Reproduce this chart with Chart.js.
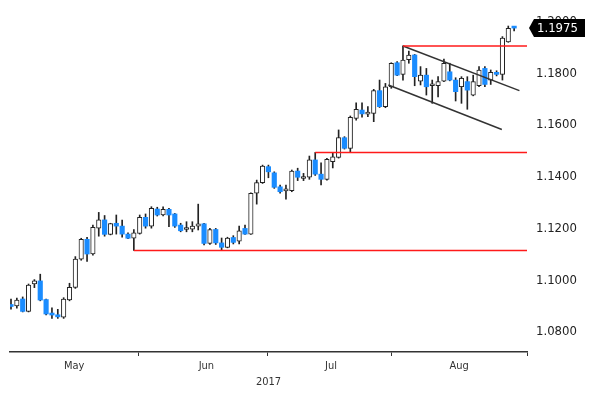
<!DOCTYPE html>
<html>
<head>
<meta charset="utf-8">
<script src="https://cdn.jsdelivr.net/npm/chart.js@4/dist/chart.umd.min.js"></script>
<style>
html, body { margin: 0; padding: 0; background: #fff; }
</style>
</head>
<body>
<canvas id="myChart" width="600" height="397"></canvas>
<script>
// daily candles, index 0 = early May 2017
var opens = [1.0900,1.0900,1.0927,1.0879,1.0985,1.0997,1.0925,1.0869,1.0866,1.0857,
  1.0923,1.0972,1.1081,1.1158,1.1101,1.1201,1.1233,1.1177,1.1220,1.1209,
  1.1178,1.1162,1.1181,1.1243,1.1209,1.1275,1.1252,1.1274,1.1256,1.1213,
  1.1196,1.1197,1.1209,1.1218,1.1142,1.1196,1.1144,1.1127,1.1165,1.1151,
  1.1200,1.1178,1.1336,1.1377,1.1439,1.1415,1.1361,1.1345,1.1346,1.1422,
  1.1393,1.1398,1.1465,1.1410,1.1390,1.1458,1.1475,1.1551,1.1510,1.1626,
  1.1658,1.1642,1.1645,1.1733,1.1671,1.1748,1.1841,1.1796,1.1853,1.1871,
  1.1770,1.1793,1.1752,1.1752,1.1770,1.1806,1.1774,1.1748,1.1768,1.1716,
  1.1752,1.1819,1.1774,1.1804,1.1796,1.1922,1.1977];
var closes = [1.0898,1.0923,1.0879,1.0981,1.0997,1.0923,1.0869,1.0865,1.0858,1.0927,
  1.0972,1.1081,1.1158,1.1101,1.1204,1.1233,1.1177,1.1219,1.1209,1.1178,
  1.1162,1.1183,1.1243,1.1209,1.1278,1.1252,1.1274,1.1252,1.1209,1.1191,
  1.1197,1.1209,1.1218,1.1142,1.1196,1.1144,1.1127,1.1163,1.1146,1.1191,
  1.1178,1.1336,1.1377,1.1441,1.1419,1.1359,1.1342,1.1346,1.1422,1.1398,
  1.1394,1.1465,1.1410,1.1390,1.1467,1.1477,1.1551,1.1510,1.1630,1.1661,
  1.1643,1.1643,1.1733,1.1671,1.1748,1.1839,1.1793,1.1851,1.1871,1.1787,
  1.1793,1.1748,1.1758,1.1768,1.1839,1.1774,1.1729,1.1781,1.1735,1.1768,
  1.1813,1.1757,1.1804,1.1796,1.1936,1.1974,1.1975];
var highs = [1.0927,1.0931,1.0935,1.0985,1.1002,1.1023,1.0927,1.0893,1.0887,1.0932,
  1.0988,1.1091,1.1162,1.1166,1.1213,1.1262,1.1250,1.1220,1.1252,1.1232,
  1.1183,1.1196,1.1252,1.1256,1.1284,1.1282,1.1284,1.1278,1.1258,1.1220,
  1.1226,1.1226,1.1294,1.1220,1.1200,1.1200,1.1163,1.1166,1.1172,1.1209,
  1.1213,1.1338,1.1387,1.1445,1.1445,1.1419,1.1368,1.1368,1.1426,1.1433,
  1.1413,1.1480,1.1494,1.1454,1.1471,1.1491,1.1581,1.1555,1.1635,1.1686,
  1.1686,1.1671,1.1738,1.1774,1.1761,1.1841,1.1845,1.1906,1.1886,1.1873,
  1.1826,1.1819,1.1774,1.1787,1.1855,1.1839,1.1783,1.1787,1.1787,1.1793,
  1.1826,1.1826,1.1813,1.1810,1.1942,1.1983,1.1980];
var lows = [1.0888,1.0892,1.0877,1.0877,1.0971,1.0920,1.0865,1.0852,1.0852,1.0852,
  1.0920,1.0968,1.1077,1.1072,1.1097,1.1170,1.1170,1.1175,1.1178,1.1166,
  1.1160,1.1115,1.1178,1.1201,1.1201,1.1248,1.1248,1.1207,1.1204,1.1187,
  1.1187,1.1187,1.1194,1.1136,1.1138,1.1138,1.1117,1.1125,1.1140,1.1140,
  1.1177,1.1177,1.1294,1.1374,1.1396,1.1355,1.1336,1.1313,1.1342,1.1385,
  1.1385,1.1390,1.1405,1.1368,1.1387,1.1434,1.1472,1.1507,1.1494,1.1619,
  1.1630,1.1632,1.1613,1.1668,1.1667,1.1742,1.1791,1.1774,1.1839,1.1752,
  1.1755,1.1716,1.1684,1.1709,1.1768,1.1771,1.1693,1.1684,1.1661,1.1713,
  1.1748,1.1748,1.1757,1.1790,1.1774,1.1920,1.1964];

// x axis (in trading-day slots)
var xMin = -0.17, xMax = 88.2;
var monthNames = ['May', 'Jun', 'Jul', 'Aug'];
var monthMids = [10.8, 33.4, 54.7, 76.6];
var monthStarts = [21.8, 43.9, 65.0, 88.2];
var yearLabel = '2017';

// y axis
var yMin = 1.0722, yMax = 1.2045;
var yTicks = [1.08, 1.10, 1.12, 1.14, 1.16, 1.18, 1.20];

// drawn levels: support/resistance and channel
var redLevels = [1.1115, 1.1494, 1.1906];
var redStarts = [21, 52, 67];
var channelTop = [[67, 1.1906], [86.9, 1.1733]];
var channelBottom = [[64.5, 1.1755], [83.9, 1.1583]];

var upColor = '#ffffff';
var downColor = '#1a8cff';
var edge = '#222222';

var wicks = [], bodies = [], bodyFill = [], bodyBorder = [], bodyWidth = [];
for (var i = 0; i < opens.length; i++) {
  wicks.push({x: i, y: [lows[i], highs[i]]});
  bodies.push({x: i, y: [opens[i], closes[i]]});
  var up = closes[i] >= opens[i];
  bodyFill.push(up ? upColor : downColor);
  bodyBorder.push(up ? edge : downColor);
  bodyWidth.push(up ? 1 : 0);
}

var datasets = [];
for (var k = 0; k < redLevels.length; k++) {
  datasets.push({
    type: 'line',
    data: [{x: redStarts[k], y: redLevels[k]}, {x: xMax, y: redLevels[k]}],
    borderColor: '#ff1a1a', borderWidth: 1.5, pointRadius: 0, order: 0
  });
}
[channelTop, channelBottom].forEach(function (c) {
  datasets.push({
    type: 'line',
    data: c.map(function (p) { return {x: p[0], y: p[1]}; }),
    borderColor: '#333333', borderWidth: 1.5, pointRadius: 0, order: 0
  });
});
datasets.push({
  type: 'bar', data: wicks, backgroundColor: edge,
  barThickness: 1, grouped: false, order: 3
});
datasets.push({
  type: 'bar', data: bodies, backgroundColor: bodyFill, borderColor: bodyBorder,
  borderWidth: bodyWidth, borderSkipped: false, minBarLength: 2,
  barThickness: 4.5, grouped: false, order: 2
});

var lastPrice = {
  id: 'lastPrice',
  afterDraw: function (chart) {
    var ctx = chart.ctx;
    var v = closes[closes.length - 1];
    var y = chart.scales.y.getPixelForValue(v);
    var x0 = chart.chartArea.right + 2;
    ctx.save();
    ctx.fillStyle = '#000';
    ctx.beginPath();
    ctx.moveTo(x0, y);
    ctx.lineTo(x0 + 5, y - 9);
    ctx.lineTo(x0 + 56, y - 9);
    ctx.lineTo(x0 + 56, y + 9);
    ctx.lineTo(x0 + 5, y + 9);
    ctx.closePath();
    ctx.fill();
    ctx.fillStyle = '#fff';
    ctx.font = '13px "Liberation Sans Narrow", "DejaVu Sans Condensed", sans-serif';
    ctx.textBaseline = 'middle';
    ctx.fillText(v.toFixed(4), x0 + 8, y + 1);
    ctx.restore();
  }
};

new Chart('myChart', {
  type: 'bar',
  data: { datasets: datasets },
  plugins: [lastPrice],
  options: {
    responsive: false,
    animation: false,
    layout: { padding: { left: 10, top: 10, right: 0, bottom: 0 } },
    plugins: { legend: { display: false }, tooltip: { enabled: false } },
    scales: {
      x: {
        type: 'linear', min: xMin, max: xMax, offset: false,
        afterFit: function (s) { s.height = 45; s.paddingLeft = 0; s.paddingRight = 0; },
        afterBuildTicks: function (s) {
          s.ticks = monthStarts.concat(monthMids).sort(function (a, b) { return a - b; })
            .map(function (v) { return {value: v}; });
        },
        border: { display: true, color: '#333333', width: 1.5 },
        grid: {
          drawOnChartArea: false, drawTicks: true, tickLength: 4, offset: false,
          color: function (c) {
            return c.tick && monthStarts.indexOf(c.tick.value) >= 0 ? '#333333' : 'rgba(0,0,0,0)';
          }
        },
        ticks: {
          autoSkip: false, maxRotation: 0, padding: 4, color: '#333333',
          font: { family: '"DejaVu Sans Condensed", sans-serif', size: 11 },
          callback: function (v) {
            var m = monthMids.indexOf(v);
            return m >= 0 ? monthNames[m] : '';
          }
        },
        title: {
          display: true, text: yearLabel, color: '#333333',
          font: { family: '"DejaVu Sans Condensed", sans-serif', size: 11 },
          padding: { top: 0, bottom: 8 }
        }
      },
      y: {
        position: 'right', min: yMin, max: yMax,
        afterFit: function (s) { s.width = 73; s.paddingTop = 0; s.paddingBottom = 0; },
        afterBuildTicks: function (s) {
          s.ticks = yTicks.map(function (v) { return {value: v}; });
        },
        border: { display: false },
        grid: { display: false, drawTicks: false },
        ticks: {
          padding: 9, color: '#222222',
          font: { family: '"Liberation Sans Narrow", "DejaVu Sans Condensed", sans-serif', size: 13 },
          callback: function (v) { return Number(v).toFixed(4); }
        }
      }
    }
  }
});
</script>
</body>
</html>
